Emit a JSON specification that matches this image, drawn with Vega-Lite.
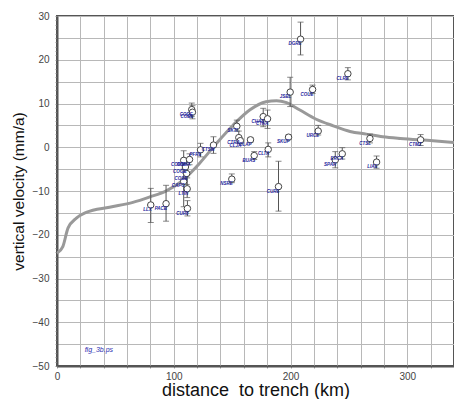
{
  "$schema": "https://vega.github.io/schema/vega-lite/v6.json",
  "width": 397,
  "height": 350,
  "autosize": {"type": "none"},
  "padding": {"left": 57, "top": 16, "right": 0, "bottom": 33},
  "background": "white",
  "config": {
    "font": "Liberation Sans",
    "view": {"stroke": "#555", "strokeWidth": 2},
    "axis": {
      "gridColor": "#b8b8b8",
      "gridWidth": 1,
      "domainColor": "#555",
      "domainWidth": 2,
      "tickColor": "#999",
      "tickSize": 3,
      "labelColor": "#444",
      "labelFont": "Liberation Sans",
      "labelFontSize": 10,
      "titleFont": "Liberation Sans",
      "titleFontWeight": "normal",
      "titleColor": "#111"
    }
  },
  "datasets": {
    "pts": [
      {"km": 80.3, "v": -13.2, "lo": -17.2, "hi": -9.4, "name": "LLX"},
      {"km": 93.4, "v": -12.9, "lo": -16.9, "hi": -8.7, "name": "PACB"},
      {"km": 111.7, "v": -14.0, "lo": -15.7, "hi": -12.2, "name": "CUR8"},
      {"km": 111.5, "v": -9.5, "lo": -11.5, "hi": -7.0, "name": "LTIN"},
      {"km": 108.5, "v": -7.8, "lo": -13.6, "hi": -5.0, "name": "CAPO"},
      {"km": 111.0, "v": -6.0, "lo": -8.5, "hi": -3.5, "name": "COSB"},
      {"km": 110.0, "v": -4.5, "lo": -6.0, "hi": -3.0, "name": "COGB"},
      {"km": 108.5, "v": -3.0, "lo": -5.2, "hi": -0.8, "name": "COMB"},
      {"km": 113.5, "v": -2.8, "lo": -4.0, "hi": -1.5, "name": "COMA"},
      {"km": 115.4, "v": 8.6, "lo": 7.0, "hi": 10.1, "name": "CODE"},
      {"km": 116.0, "v": 8.0, "lo": 6.5, "hi": 9.5, "name": "COBE"},
      {"km": 122.9, "v": -0.6, "lo": -2.2, "hi": 0.9, "name": "PFRE"},
      {"km": 134.0, "v": 0.5, "lo": -1.4, "hi": 2.4, "name": "CTSM"},
      {"km": 149.7, "v": -7.3, "lo": -8.1, "hi": -6.1, "name": "NSRE"},
      {"km": 154.0, "v": 4.8, "lo": 3.7, "hi": 6.2, "name": "SKTI"},
      {"km": 155.7, "v": 2.2, "lo": 1.0, "hi": 3.7, "name": "CTRA"},
      {"km": 157.0, "v": 1.5, "lo": 1.0, "hi": 2.0, "name": "CLJA"},
      {"km": 165.7, "v": 1.7, "lo": 1.2, "hi": 2.2, "name": "OLAP"},
      {"km": 168.9, "v": -1.9, "lo": -2.8, "hi": -1.0, "name": "BUAS"},
      {"km": 176.6, "v": 7.0, "lo": 4.7, "hi": 8.9, "name": "CHAS"},
      {"km": 180.3, "v": 6.5, "lo": 4.3, "hi": 8.5, "name": "CTHA"},
      {"km": 180.9, "v": -0.5, "lo": -2.2, "hi": 1.0, "name": "CLTA"},
      {"km": 189.7, "v": -9.0, "lo": -14.6, "hi": -3.2, "name": "CURE"},
      {"km": 198.3, "v": 2.3, "lo": 1.8, "hi": 2.8, "name": "SKUP"},
      {"km": 199.7, "v": 12.6, "lo": 9.3, "hi": 16.0, "name": "JSBL"},
      {"km": 208.6, "v": 24.7, "lo": 21.1, "hi": 28.6, "name": "DGRE"},
      {"km": 218.9, "v": 13.2, "lo": 12.3, "hi": 14.2, "name": "COUE"},
      {"km": 223.7, "v": 3.7, "lo": 2.8, "hi": 5.0, "name": "URCE"},
      {"km": 238.3, "v": -2.9, "lo": -4.7, "hi": -1.0, "name": "SPAR"},
      {"km": 244.3, "v": -1.5, "lo": -2.7, "hi": -0.1, "name": "ERCA"},
      {"km": 249.1, "v": 16.8, "lo": 15.4, "hi": 18.2, "name": "CLRE"},
      {"km": 268.0, "v": 2.0, "lo": 1.0, "hi": 3.0, "name": "CTSL"},
      {"km": 273.7, "v": -3.4, "lo": -4.8, "hi": -2.0, "name": "LIAE"},
      {"km": 311.4, "v": 1.7, "lo": 0.4, "hi": 2.9, "name": "CTMZ"}
    ],
    "curve": [
      {"km": 0, "v": -24.2},
      {"km": 5, "v": -22.7},
      {"km": 9.4, "v": -18.5},
      {"km": 16.6, "v": -16.2},
      {"km": 25, "v": -14.9},
      {"km": 45, "v": -13.7},
      {"km": 65, "v": -12.6},
      {"km": 79, "v": -11.4},
      {"km": 94, "v": -9.9},
      {"km": 108, "v": -7.5},
      {"km": 122, "v": -3.7},
      {"km": 136.6, "v": 0.9},
      {"km": 151, "v": 5.1},
      {"km": 165, "v": 8.5},
      {"km": 179, "v": 10.4},
      {"km": 188, "v": 10.65},
      {"km": 196.6, "v": 10.2},
      {"km": 208, "v": 8.5},
      {"km": 222, "v": 6.4},
      {"km": 236.6, "v": 4.9},
      {"km": 251, "v": 3.6},
      {"km": 265, "v": 3.0},
      {"km": 279, "v": 2.4},
      {"km": 294, "v": 2.0},
      {"km": 322, "v": 1.5},
      {"km": 340, "v": 1.1}
    ],
    "note": [{"km": 23.7, "v": -46.3, "text": "fig_3b.ps"}]
  },
  "encoding": {
    "x": {
      "field": "km", "type": "quantitative",
      "scale": {"domain": [0, 340], "nice": false},
      "axis": {
        "title": "distance\u00a0 to trench (km)",
        "titleFontSize": 18,
        "values": [0, 20, 40, 60, 80, 100, 120, 140, 160, 180, 200, 220, 240, 260, 280, 300, 320, 340],
        "labelExpr": "datum.value % 100 === 0 ? datum.label : ''",
        "format": "d",
        "tickSize": 2,
        "labelPadding": 3,
        "titlePadding": 0,
        "labelFlush": false
      }
    },
    "y": {
      "field": "v", "type": "quantitative",
      "scale": {"domain": [-50, 30], "nice": false},
      "axis": {
        "title": "vertical velocity (mm/a)",
        "titleFontSize": 15.5,
        "values": [-50, -49, -48, -47, -46, -45, -44, -43, -42, -41, -40, -39, -38, -37, -36, -35, -34, -33, -32, -31, -30, -29, -28, -27, -26, -25, -24, -23, -22, -21, -20, -19, -18, -17, -16, -15, -14, -13, -12, -11, -10, -9, -8, -7, -6, -5, -4, -3, -2, -1, 0, 1, 2, 3, 4, 5, 6, 7, 8, 9, 10, 11, 12, 13, 14, 15, 16, 17, 18, 19, 20, 21, 22, 23, 24, 25, 26, 27, 28, 29, 30],
        "labelExpr": "datum.value % 10 === 0 ? datum.label : ''",
        "gridOpacity": {"condition": {"test": "datum.value % 5 === 0", "value": 1}, "value": 0},
        "tickSize": 2,
        "labelPadding": 6,
        "titlePadding": 6
      }
    }
  },
  "layer": [
    {
      "data": {"name": "curve"},
      "mark": {"type": "line", "color": "#999", "strokeWidth": 3, "interpolate": "monotone", "clip": true},
      "encoding": {}
    },
    {
      "data": {"name": "pts"},
      "mark": {"type": "rule", "color": "#555", "strokeWidth": 1},
      "encoding": {"y": {"field": "lo", "type": "quantitative"}, "y2": {"field": "hi"}}
    },
    {
      "data": {"name": "pts"},
      "mark": {"type": "tick", "orient": "horizontal", "color": "#555", "size": 6, "thickness": 1},
      "encoding": {"y": {"field": "lo", "type": "quantitative"}}
    },
    {
      "data": {"name": "pts"},
      "mark": {"type": "tick", "orient": "horizontal", "color": "#555", "size": 6, "thickness": 1},
      "encoding": {"y": {"field": "hi", "type": "quantitative"}}
    },
    {
      "data": {"name": "pts"},
      "mark": {"type": "point", "shape": "circle", "filled": true, "fill": "white", "stroke": "#444", "strokeWidth": 1, "size": 42, "opacity": 1},
      "encoding": {}
    },
    {
      "data": {"name": "pts"},
      "mark": {"type": "text", "align": "right", "baseline": "middle", "dx": 1, "dy": 5, "fontSize": 4.5, "fontStyle": "italic", "fontWeight": "bold", "color": "#22229a"},
      "encoding": {"text": {"field": "name"}}
    },
    {
      "data": {"name": "note"},
      "mark": {"type": "text", "align": "left", "baseline": "middle", "fontSize": 7, "fontStyle": "italic", "color": "#2a2ab0"},
      "encoding": {"text": {"field": "text"}}
    }
  ]
}
